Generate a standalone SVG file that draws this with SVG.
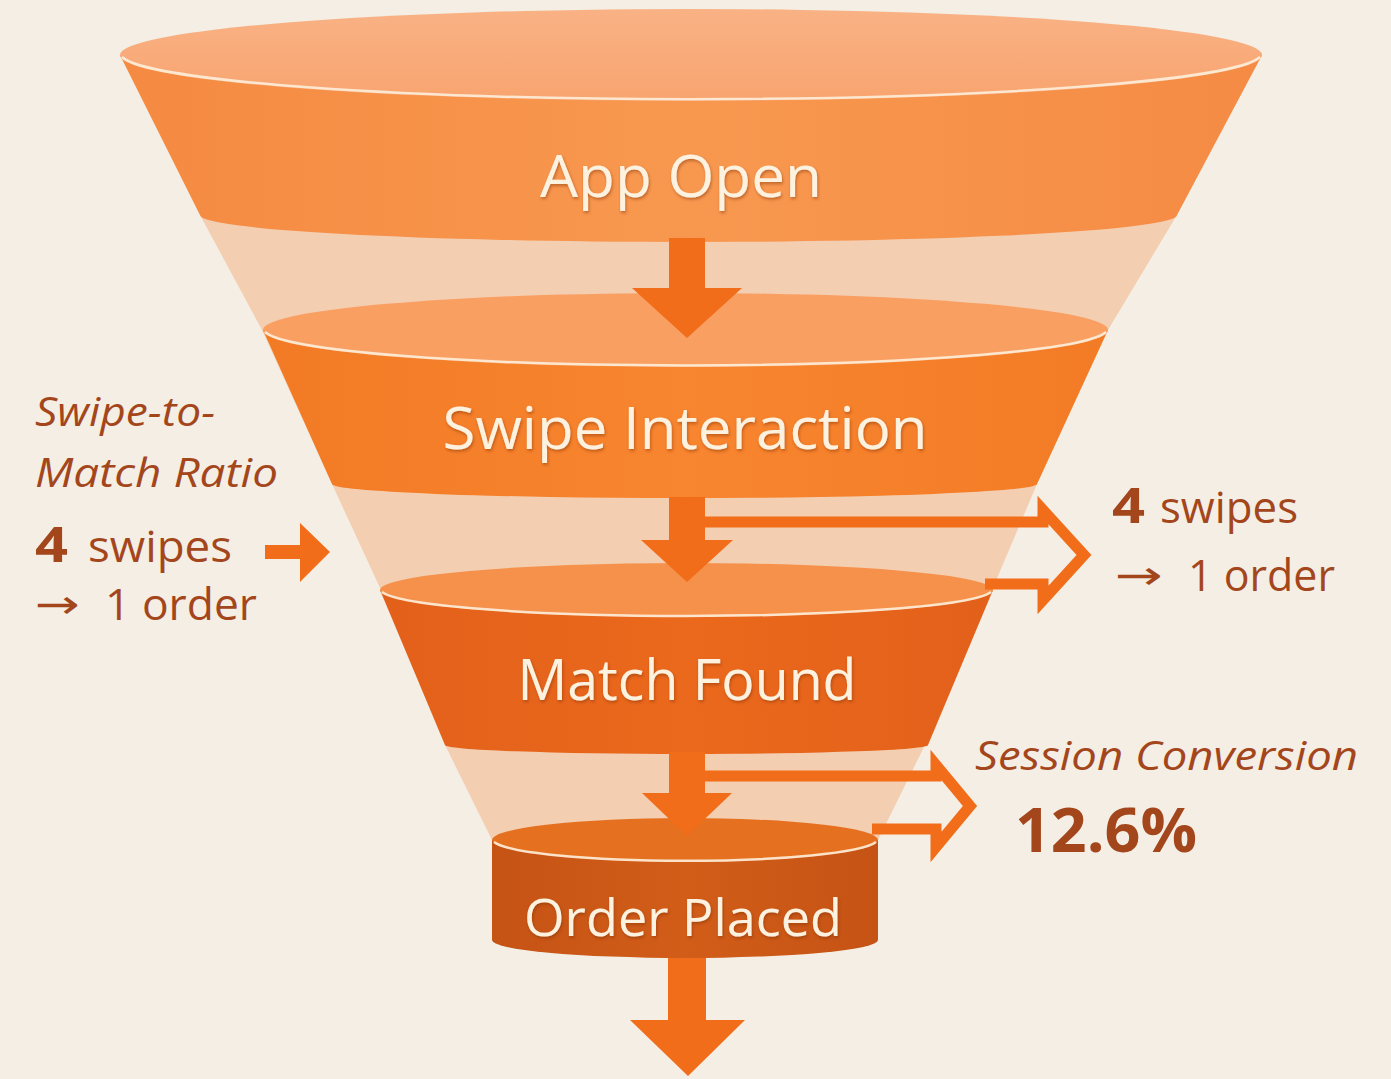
<svg xmlns="http://www.w3.org/2000/svg" width="1391" height="1079" viewBox="0 0 1391 1079">
<defs>
<style>
.lbl{font-family:"Open Sans","Noto Sans",sans-serif;fill:#fdf2df;text-anchor:middle;filter:url(#ts)}
.ann{font-family:"Open Sans","Noto Sans","DejaVu Sans",sans-serif;fill:#a4461c}
.it{font-style:italic}
.b{font-weight:700}
.rim{fill:none;stroke:#fdeeda;stroke-width:2.5;opacity:0.9}
.arr{fill:#f26d1a}
.hol{fill:none;stroke:#f26d1a;stroke-width:11;stroke-linejoin:miter;stroke-miterlimit:10}
.light{fill:#f4ceb1}
</style>
<filter id="ts" x="-10%" y="-40%" width="120%" height="180%">
<feDropShadow dx="1" dy="2" stdDeviation="1.8" flood-color="#7a2e05" flood-opacity="0.45"/>
</filter>
<linearGradient id="g1" x1="0" y1="0" x2="1" y2="0">
<stop offset="0" stop-color="#f58a42"/><stop offset="0.5" stop-color="#f8984f"/><stop offset="1" stop-color="#f58b44"/>
</linearGradient>
<linearGradient id="g2" x1="0" y1="0" x2="1" y2="0">
<stop offset="0" stop-color="#f27a25"/><stop offset="0.5" stop-color="#f8852f"/><stop offset="1" stop-color="#f37b26"/>
</linearGradient>
<linearGradient id="g3" x1="0" y1="0" x2="1" y2="0">
<stop offset="0" stop-color="#e2601a"/><stop offset="0.5" stop-color="#eb691c"/><stop offset="1" stop-color="#e2601a"/>
</linearGradient>
<linearGradient id="g4" x1="0" y1="0" x2="1" y2="0">
<stop offset="0" stop-color="#c55314"/><stop offset="0.5" stop-color="#d25d19"/><stop offset="1" stop-color="#c55314"/>
</linearGradient>
<linearGradient id="t1" x1="0" y1="0" x2="0" y2="1">
<stop offset="0" stop-color="#f9b285"/><stop offset="1" stop-color="#f8a46f"/>
</linearGradient>
</defs>

<rect width="1391" height="1079" fill="#f4eee4"/>

<g id="funnel-body">
<polygon class="light" points="120,55 200,215 262,330 332,484 381,590 445,745 492,840 878,840 925,745 992,590 1037,484 1108,330 1177,215 1262,55"/>
</g>

<g id="node-app-open">
<path d="M120,55 L200,215 A488.5,27 0 0 0 1177,215 L1262,55 Z" fill="url(#g1)"/>
<ellipse cx="691" cy="55" rx="571" ry="46" fill="url(#t1)"/>
<path class="rim" d="M122,57 A571,46 0 0 0 1260,57"/>
<text class="lbl" x="681" y="197" font-size="58" textLength="282" lengthAdjust="spacingAndGlyphs">App Open</text>
</g>

<g id="node-swipe">
<path d="M263,330 L332,484 A352.5,14 0 0 0 1037,484 L1108,330 Z" fill="url(#g2)"/>
<ellipse cx="685.5" cy="330" rx="422.5" ry="37" fill="#f99f62"/>
<path class="rim" d="M265,332 A422.5,37 0 0 0 1106,332"/>
<text class="lbl" x="685" y="449" font-size="58" textLength="485" lengthAdjust="spacingAndGlyphs">Swipe Interaction</text>
</g>

<g id="node-match">
<path d="M380,590 L445,745 A241.5,9 0 0 0 928,745 L993,590 Z" fill="url(#g3)"/>
<ellipse cx="686.5" cy="590" rx="306.5" ry="27" fill="#f5914b"/>
<path class="rim" d="M382,592 A306.5,27 0 0 0 991,592"/>
<text class="lbl" x="687" y="700" font-size="56" textLength="339" lengthAdjust="spacingAndGlyphs">Match Found</text>
</g>

<g id="node-order">
<path d="M492,840 V940 A193,18 0 0 0 878,940 V840 Z" fill="url(#g4)"/>
<ellipse cx="685" cy="840" rx="193" ry="22" fill="#e5701f"/>
<path class="rim" d="M494,842 A193,22 0 0 0 876,842"/>
<text class="lbl" x="683" y="936" font-size="52" textLength="318" lengthAdjust="spacingAndGlyphs">Order Placed</text>
</g>

<g id="connectors">
<path class="hol" d="M705,522 H1043 V510 L1084,555 L1043,600 V584 H985"/>
<path class="hol" d="M705,776 H936 V765 L970,806 L936,847 V829 H872"/>
<polygon class="arr" points="669,238 705,238 705,288 742,288 687,338 632,288 669,288"/>
<polygon class="arr" points="669,497 705,497 705,540 733,540 687,582 641,540 669,540"/>
<polygon class="arr" points="669,752 705,752 705,793 732,793 687,836 642,793 669,793"/>
<polygon class="arr" points="668,958 706,958 706,1020 745,1020 688,1076 630,1020 668,1020"/>
<polygon class="arr" points="265,545 300,545 300,523 330,552 300,582 300,559 265,559"/>
</g>

<g id="annotation-left">
<text class="ann it" x="35" y="426" font-size="40" textLength="180" lengthAdjust="spacingAndGlyphs">Swipe-to-</text>
<text class="ann it" x="35" y="487" font-size="40" textLength="243" lengthAdjust="spacingAndGlyphs">Match Ratio</text>
<text class="ann b" x="35" y="562" font-size="48" textLength="33" lengthAdjust="spacingAndGlyphs">4</text>
<text class="ann" x="88" y="562" font-size="44" textLength="144" lengthAdjust="spacingAndGlyphs">swipes</text>
<text class="ann" x="35" y="618" font-size="40" textLength="45" lengthAdjust="spacingAndGlyphs">→</text>
<text class="ann" x="105" y="620" font-size="44" textLength="152" lengthAdjust="spacingAndGlyphs">1 order</text>
</g>

<g id="annotation-right">
<text class="ann b" x="1112" y="523" font-size="48" textLength="33" lengthAdjust="spacingAndGlyphs">4</text>
<text class="ann" x="1160" y="523" font-size="44" textLength="138" lengthAdjust="spacingAndGlyphs">swipes</text>
<text class="ann" x="1115" y="589" font-size="40" textLength="48" lengthAdjust="spacingAndGlyphs">→</text>
<text class="ann" x="1188" y="591" font-size="44" textLength="147" lengthAdjust="spacingAndGlyphs">1 order</text>
<text class="ann it" x="975" y="770" font-size="40" textLength="383" lengthAdjust="spacingAndGlyphs">Session Conversion</text>
<text class="ann b" x="1015" y="852" font-size="60" textLength="182" lengthAdjust="spacingAndGlyphs">12.6%</text>
</g>
</svg>
